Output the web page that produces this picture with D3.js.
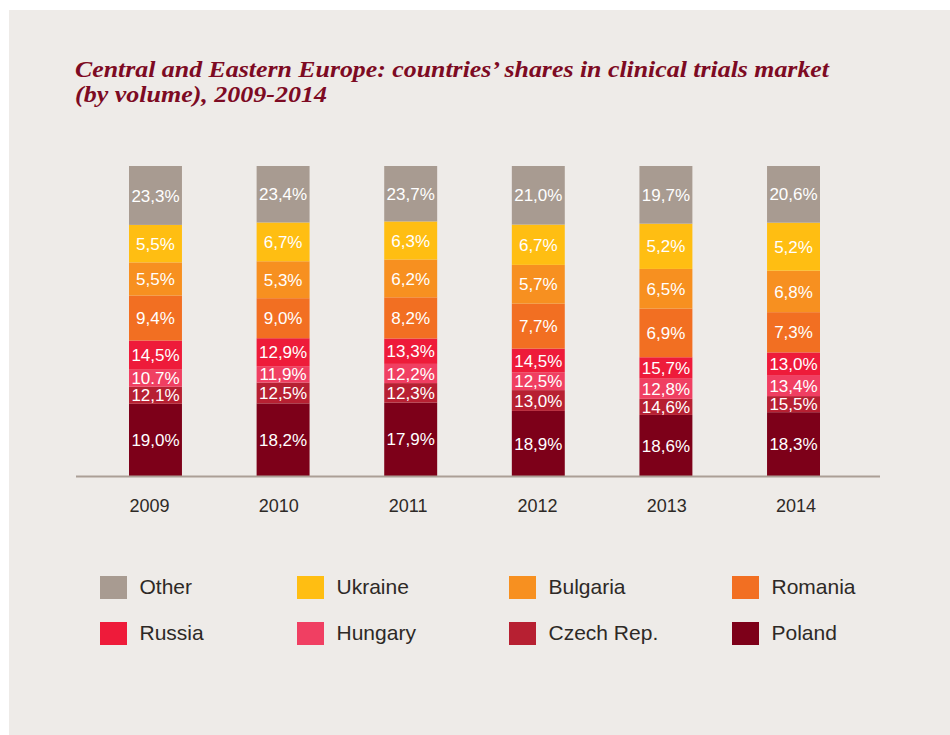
<!DOCTYPE html>
<html>
<head>
<meta charset="utf-8">
<script src="https://cdn.jsdelivr.net/npm/d3@7"></script>
<style>
  body { margin: 0; background: #fff; }
  text { font-family: "Liberation Sans", Arial, sans-serif; }
  text.title { font-family: "Liberation Serif", "DejaVu Serif", serif; font-weight: bold; font-style: italic; }
</style>
</head>
<body>
<div id="chart"></div>
<script>
// Data (shares in %)
const years = ["2009", "2010", "2011", "2012", "2013", "2014"];
const countries = ["Other", "Ukraine", "Bulgaria", "Romania", "Russia", "Hungary", "Czech Rep.", "Poland"];
const other    = [23.3, 23.4, 23.7, 21.0, 19.7, 20.6];
const ukraine  = [5.5, 6.7, 6.3, 6.7, 5.2, 5.2];
const bulgaria = [5.5, 5.3, 6.2, 5.7, 6.5, 6.8];
const romania  = [9.4, 9.0, 8.2, 7.7, 6.9, 7.3];
const russia   = [14.5, 12.9, 13.3, 14.5, 15.7, 13.0];
const hungary  = [10.7, 11.9, 12.2, 12.5, 12.8, 13.4];
const czech    = [12.1, 12.5, 12.3, 13.0, 14.6, 15.5];
const poland   = [19.0, 18.2, 17.9, 18.9, 18.6, 18.3];
const colors = ["#a89b91", "#ffbe12", "#f79020", "#f26f22", "#ee1b3a", "#f03f62", "#b72032", "#7d0019"];
const titleLines = [
  "Central and Eastern Europe: countries\u2019 shares in clinical trials market",
  "(by volume), 2009-2014"
];
// one label in the source is printed with a point instead of a comma
const labelOverrides = { "2009|Hungary": "10.7%" };

const series = [other, ukraine, bulgaria, romania, russia, hungary, czech, poland];

// table for d3.stack
const table = years.map((year, i) => {
  const row = { year };
  countries.forEach((c, j) => { row[c] = series[j][i]; });
  return row;
});

const W = 950, H = 735;
const svg = d3.select("#chart")
  .append("svg")
    .attr("width", W)
    .attr("height", H);

// panel background
svg.append("rect")
  .attr("x", 9).attr("y", 10)
  .attr("width", W - 9).attr("height", H - 10)
  .attr("fill", "#eeebe8");

// Title (the original face is wider than Liberation Serif, so stretch to its widths)
const titleWidths = [754, 252];
const title = svg.append("g")
  .attr("transform", "translate(75,76.5)")
  .attr("fill", "#7d0a23");
title.selectAll("text")
  .data(titleLines)
  .enter().append("text")
    .attr("class", "title")
    .attr("y", (d, i) => i * 25.5)
    .attr("textLength", (d, i) => titleWidths[i])
    .attr("lengthAdjust", "spacingAndGlyphs")
    .style("font-size", "22.5px")
    .text(d => d);

// Scales
const x = d3.scaleBand().domain(years).range([129, 820]).paddingInner(0.585).paddingOuter(0);
const xLabel = d3.scalePoint().domain(years).range([149, 795.5]);
const y = d3.scaleLinear().domain([0, 1]).range([476, 166]);

// Stack: the source graphic sizes its segments in the reverse order of
// their colours and labels, so the layer built from key k is painted as
// the country n-1-k.
const stack = d3.stack().keys(countries).offset(d3.stackOffsetExpand);
const layers = stack(table);
const n = countries.length;

const fmt = d3.format(".1f");
const labelText = (country, year, v) =>
  labelOverrides[year + "|" + country] || fmt(v).replace(".", ",") + "%";

layers.forEach((layer, k) => {
  const shown = n - 1 - k;
  const g = svg.append("g");
  g.selectAll("rect")
    .data(layer)
    .enter().append("rect")
      .attr("x", d => x(d.data.year))
      .attr("y", d => y(d[1]))
      .attr("width", x.bandwidth())
      .attr("height", d => y(d[0]) - y(d[1]))
      .attr("fill", colors[shown]);
  g.selectAll("text")
    .data(layer)
    .enter().append("text")
      .attr("x", d => x(d.data.year) + x.bandwidth() / 2)
      .attr("y", d => (y(d[0]) + y(d[1])) / 2)
      .attr("dy", "0.36em")
      .attr("text-anchor", "middle")
      .attr("fill", "#fff")
      .style("font-size", "17px")
      .text(d => labelText(countries[shown], d.data.year, d.data[countries[shown]]));
});

// baseline
svg.append("line")
  .attr("x1", 76).attr("x2", 880)
  .attr("y1", 476.5).attr("y2", 476.5)
  .attr("stroke", "#ab9f96")
  .attr("stroke-width", 2);

// x axis labels
const xAxis = svg.append("g")
  .attr("transform", "translate(0,476)")
  .call(d3.axisBottom(xLabel).tickSize(0).tickPadding(23));
xAxis.select(".domain").remove();
xAxis.selectAll("text")
  .style("font-family", "'Liberation Sans', Arial, sans-serif")
  .style("font-size", "18px")
  .attr("fill", "#2d2926");

// Legend
const legendCols = [100, 297, 509, 732];
const legendRows = [576, 622];
const legend = svg.append("g").attr("class", "legend");
const items = legend.selectAll("g")
  .data(countries)
  .enter().append("g")
    .attr("transform", (d, i) => `translate(${legendCols[i % 4]},${legendRows[Math.floor(i / 4)]})`);
items.append("rect")
  .attr("width", 27)
  .attr("height", 23)
  .attr("fill", (d, i) => colors[i]);
items.append("text")
  .attr("x", 39.5)
  .attr("y", 18)
  .attr("fill", "#2d2926")
  .style("font-size", "21px")
  .text(d => d);
</script>
</body>
</html>
